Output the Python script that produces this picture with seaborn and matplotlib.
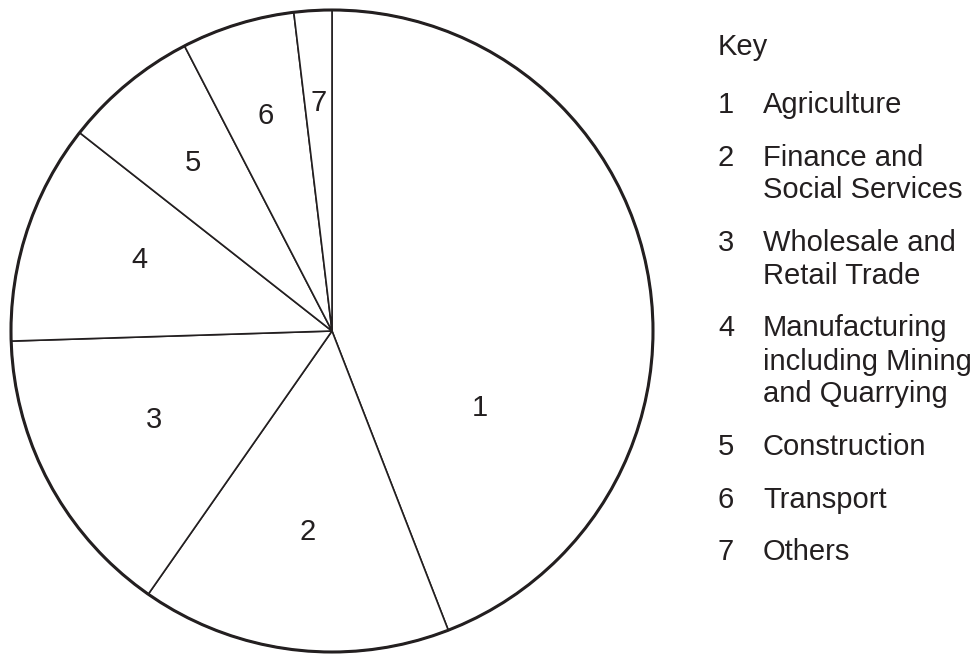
import numpy as np
import matplotlib.pyplot as plt
import seaborn as sns

# Share of each sector (percent)
sector_ids = ["1", "2", "3", "4", "5", "6", "7"]
sector_names = [
    "Agriculture",
    "Finance and\nSocial Services",
    "Wholesale and\nRetail Trade",
    "Manufacturing\nincluding Mining\nand Quarrying",
    "Construction",
    "Transport",
    "Others",
]
shares = [44.1, 15.6, 14.8, 11.1, 6.8, 5.7, 1.9]

INK = "#231f20"
W, H, DPI = 978, 655, 100
FS = 21

sns.set_theme(style="white")
plt.rcParams["font.family"] = ["Liberation Sans", "DejaVu Sans"]

fig = plt.figure(figsize=(W / DPI, H / DPI), dpi=DPI)
fig.patch.set_facecolor("white")

# pie centre (332, 331) px, radius 321 px
cx, cy, r = 332, 331, 321
ax = fig.add_axes([(cx - r) / W, (H - cy - r) / H, 2 * r / W, 2 * r / H])

wedges, _ = ax.pie(shares, startangle=90, counterclock=False,
                   colors=["white"] * len(shares),
                   wedgeprops=dict(edgecolor=INK, linewidth=1.2))
ax.add_patch(plt.Circle((0, 0), 1, fill=False, edgecolor=INK, linewidth=2.2,
                        clip_on=False))
ax.set_xlim(-1, 1)
ax.set_ylim(-1, 1)
ax.set_aspect("equal")
ax.axis("off")

# number inside each slice: distance from centre and angle shift (deg)
label_dist = [0.52, 0.63, 0.62, 0.64, 0.68, 0.70, 0.71]
label_shift = [-38, 0, -2, -2, 0, 0, 0]
for w, sid, d, s in zip(wedges, sector_ids, label_dist, label_shift):
    ang = np.deg2rad((w.theta1 + w.theta2) / 2 + s)
    ax.text(d * np.cos(ang), d * np.sin(ang), sid, ha="center", va="center",
            fontsize=FS, color=INK)

# key on the right, laid out in pixels
num_x, txt_x = 718, 763
fig.text(num_x / W, 1 - 55 / H, "Key", fontsize=FS, color=INK, va="baseline")
y = 113
line_step, item_gap = 33, 52.5
for sid, name in zip(sector_ids, sector_names):
    fig.text(num_x / W, 1 - y / H, sid, fontsize=FS, color=INK, va="baseline")
    lines = name.split("\n")
    for i, ln in enumerate(lines):
        fig.text(txt_x / W, 1 - (y + i * line_step) / H, ln, fontsize=FS,
                 color=INK, va="baseline")
    y += (len(lines) - 1) * line_step + item_gap

fig.savefig("out.png", dpi=DPI)
